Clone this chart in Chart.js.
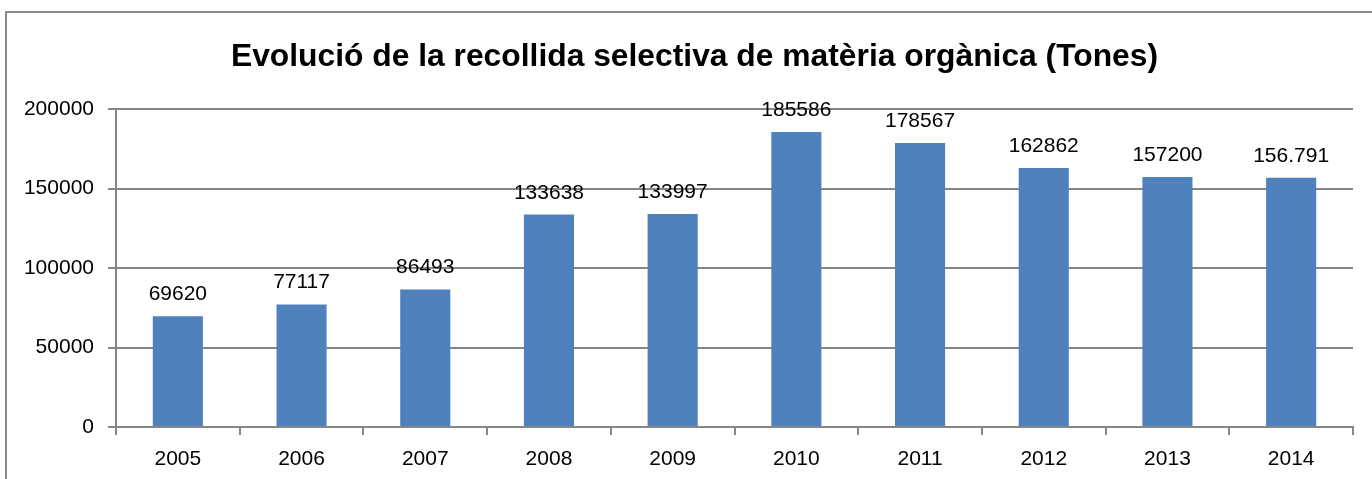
<!DOCTYPE html>
<html><head><meta charset="utf-8">
<script src="https://cdn.jsdelivr.net/npm/chart.js@4/dist/chart.umd.min.js"></script>
<style>html,body{margin:0;padding:0;background:#fff;}#wrap{width:1372px;height:479px;position:relative;}</style>
</head><body><div id="wrap"><canvas id="c" width="1372" height="479"></canvas></div>
<script>
const categories = ['2005','2006','2007','2008','2009','2010','2011','2012','2013','2014'];
const values = [69620, 77117, 86493, 133638, 133997, 185586, 178567, 162862, 157200, 156791];
const valueLabels = ['69620','77117','86493','133638','133997','185586','178567','162862','157200','156.791'];
const yTicks = [0, 50000, 100000, 150000, 200000];
const titleText = 'Evolució de la recollida selectiva de matèria orgànica (Tones)';

const FONT = "'Liberation Sans', Arial, sans-serif";
const frame = {
  id: 'frame',
  beforeDraw(chart) {
    const ctx = chart.ctx;
    ctx.save();
    ctx.strokeStyle = '#8a8a8a';
    ctx.lineWidth = 2;
    ctx.beginPath();
    ctx.moveTo(6, chart.height);
    ctx.lineTo(6, 12);
    ctx.lineTo(chart.width, 12);
    ctx.stroke();
    // chart title, centred over the whole frame
    ctx.font = 'bold 31.8px ' + FONT;
    ctx.fillStyle = '#000';
    ctx.textAlign = 'center';
    ctx.textBaseline = 'alphabetic';
    ctx.fillText(titleText, 694.5, 66);
    ctx.restore();
  }
};
const dataLabels = {
  id: 'dataLabels',
  afterDatasetsDraw(chart) {
    const ctx = chart.ctx;
    const meta = chart.getDatasetMeta(0);
    ctx.save();
    ctx.font = '21px ' + FONT;
    ctx.fillStyle = '#000';
    ctx.textAlign = 'center';
    ctx.textBaseline = 'alphabetic';
    meta.data.forEach((bar, i) => {
      ctx.fillText(valueLabels[i], bar.x, bar.y - 16);
    });
    ctx.restore();
  }
};

new Chart(document.getElementById('c'), {
  type: 'bar',
  data: {
    labels: categories,
    datasets: [{
      data: values,
      backgroundColor: '#4F81BD',
      borderWidth: 0,
      barPercentage: 0.405,
      categoryPercentage: 1
    }]
  },
  options: {
    responsive: false,
    animation: false,
    layout: { padding: { left: 0, right: 19, top: 109, bottom: 0 } },
    plugins: {
      legend: { display: false },
      tooltip: { enabled: false },
      title: { display: false }
    },
    scales: {
      x: {
        afterFit(s) { s.height = 52; },
        grid: { display: true, offset: true, drawOnChartArea: false, drawTicks: true, tickLength: 8, color: '#868686', lineWidth: 2 },
        border: { display: true, color: '#868686', width: 2 },
        ticks: { color: '#000', font: { family: FONT, size: 21 }, padding: 12 }
      },
      y: {
        min: 0, max: 200000,
        afterFit(s) { s.width = 116; },
        afterBuildTicks(s) { s.ticks = yTicks.map(v => ({ value: v })); },
        grid: { color: '#868686', lineWidth: 2, tickLength: 8 },
        border: { display: true, color: '#868686', width: 2 },
        ticks: { color: '#000', font: { family: FONT, size: 21 }, padding: 14, callback: v => String(v) }
      }
    }
  },
  plugins: [frame, dataLabels]
});
</script></body></html>
